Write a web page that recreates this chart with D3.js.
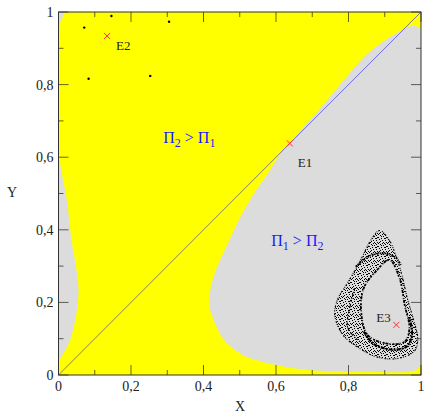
<!DOCTYPE html>
<html><head><meta charset="utf-8">
<script src="https://cdn.jsdelivr.net/npm/d3@7"></script>
<style>body{margin:0;background:#fff}</style>
</head><body><svg id="c" width="426" height="414"></svg>
<script>
// ---- data ----
const xTicks = [0, 0.2, 0.4, 0.6, 0.8, 1];
const yTicks = [0, 0.2, 0.4, 0.6, 0.8, 1];
const minorTicks = [0.1, 0.3, 0.5, 0.7, 0.9];
const tickLabels = ["0", "0,2", "0,4", "0,6", "0,8", "1"];
// boundary of region Pi1 > Pi2 (gray), right part
const grayMainCurve = [[1,0.955],[0.977,0.962],[0.941,0.946],[0.895,0.918],[0.849,0.882],[0.803,0.831],[0.757,0.776],[0.711,0.721],[0.665,0.670],[0.638,0.638],[0.619,0.620],[0.578,0.556],[0.546,0.510],[0.518,0.464],[0.493,0.418],[0.472,0.372],[0.450,0.326],[0.431,0.280],[0.419,0.234],[0.417,0.188],[0.428,0.152],[0.454,0.100],[0.500,0.060],[0.546,0.041],[0.638,0.020],[0.72,0.012],[0.85,0.009],[0.965,0.009],[0.99,0.016],[1,0.031]];
// left lobe
const grayLeftCurve = [[0,0.606],[0.012,0.54],[0.023,0.482],[0.036,0.371],[0.048,0.30],[0.055,0.242],[0.052,0.187],[0.032,0.096],[0.004,0.045],[0,0.04]];
const grayCorner = [[0,1],[0.018,1],[0.008,0.98],[0,0.96]];
const diagonal = [[0,0],[1,1]];
// attractor around E3
const attractorOuter = [[0.886,0.398],[0.912,0.372],[0.932,0.325],[0.950,0.265],[0.962,0.212],[0.980,0.150],[0.991,0.101],[0.982,0.066],[0.932,0.045],[0.877,0.050],[0.831,0.073],[0.785,0.110],[0.762,0.165],[0.771,0.211],[0.794,0.248],[0.831,0.312],[0.862,0.372]];
const attractorInner = [[0.913,0.317],[0.877,0.287],[0.842,0.239],[0.835,0.174],[0.853,0.110],[0.904,0.087],[0.955,0.092],[0.968,0.129],[0.955,0.193],[0.941,0.266]];
const attractorArch = [[0.820,0.298],[0.858,0.328],[0.899,0.335],[0.932,0.322],[0.945,0.300]];
const attractorStreak = [[0.817,0.239],[0.803,0.184],[0.798,0.129],[0.831,0.092]];
const attractorRimBottom = [[0.842,0.120],[0.870,0.085],[0.920,0.070],[0.960,0.078],[0.975,0.110],[0.968,0.160]];
// isolated points (periodic orbit near E2)
const orbitX = [0.071, 0.146, 0.305, 0.083, 0.253];
const orbitY = [0.957, 0.989, 0.973, 0.816, 0.824];
// equilibria
const eqNames = ["E1", "E2", "E3"];
const eqX = [0.638, 0.134, 0.932];
const eqY = [0.638, 0.934, 0.138];
const regionLabels = [{x:0.289, y:0.64, a:"2", b:"1"}, {x:0.587, y:0.355, a:"1", b:"2"}];

// ---- drawing ----
const svg = d3.select("#c");
const L = 58.5, R = 421, T = 12, B = 375;
const x = d3.scaleLinear().domain([0,1]).range([L,R]);
const y = d3.scaleLinear().domain([0,1]).range([B,T]);
const font = "'Liberation Serif', 'DejaVu Serif', serif";

const defs = svg.append("defs");
const pat = defs.append("pattern").attr("id","dots").attr("width",9).attr("height",9).attr("patternUnits","userSpaceOnUse");
[[0,0],[4,0],[7,1],[2,1],[5,2],[0,3],[8,3],[3,4],[6,4],[1,5],[4,6],[7,6],[2,7],[5,8],[8,8],[6,0],[1,8],[3,2],[7,4]].forEach(p=>{
  pat.append("rect").attr("x",p[0]).attr("y",p[1]).attr("width",1).attr("height",1).attr("fill","#000");
});
defs.append("clipPath").attr("id","clip").append("rect").attr("x",L).attr("y",T).attr("width",R-L).attr("height",B-T);

const g = svg.append("g").attr("clip-path","url(#clip)");
g.append("rect").attr("x",L).attr("y",T).attr("width",R-L).attr("height",B-T).attr("fill","#ffff00");

const curve = d3.line().x(d=>x(d[0])).y(d=>y(d[1])).curve(d3.curveCatmullRom);
const lin = d3.line().x(d=>x(d[0])).y(d=>y(d[1]));
const gray = "#dcdcdc";
g.append("path").attr("d", curve(grayMainCurve) + "L" + x(1) + "," + y(0.955) + "Z").attr("fill",gray);
g.append("path").attr("d", curve(grayLeftCurve) + "Z").attr("fill",gray);
g.append("path").attr("d", lin(grayCorner) + "Z").attr("fill",gray);

g.append("path").attr("d", lin(diagonal)).attr("stroke","#0000ff").attr("stroke-opacity",0.5).attr("stroke-width",1).attr("fill","none");

// attractor
const closed = d3.line().x(d=>x(d[0])).y(d=>y(d[1])).curve(d3.curveCatmullRomClosed);
g.append("path").attr("d", closed(attractorOuter) + closed(attractorInner)).attr("fill","url(#dots)").attr("fill-rule","evenodd");
g.append("path").attr("d", closed(attractorOuter)).attr("fill","none").attr("stroke","#000").attr("stroke-width",1.1).attr("stroke-dasharray","1,1,2,2,1,1");
g.append("path").attr("d", closed(attractorInner)).attr("fill","none").attr("stroke","#000").attr("stroke-width",1.8).attr("stroke-dasharray","3,1,1,2,2,1");
g.append("path").attr("d", curve(attractorRimBottom)).attr("fill","none").attr("stroke","#000").attr("stroke-width",2.2).attr("stroke-dasharray","4,1,2,1");
g.append("path").attr("d", curve(attractorArch)).attr("fill","none").attr("stroke","#000").attr("stroke-width",2).attr("stroke-dasharray","2,1,1,1");
g.append("path").attr("d", curve(attractorStreak)).attr("fill","none").attr("stroke","#000").attr("stroke-width",1.3).attr("stroke-dasharray","2,2,1,1");

// orbit points
g.selectAll(".op").data(orbitX).enter().append("circle").attr("cx",d=>x(d)).attr("cy",(d,i)=>y(orbitY[i])).attr("r",1.2).attr("fill","#000");

// equilibria markers
const eqLabelDx = [8, 9, -20], eqLabelDy = [24, 14, -3];
eqNames.forEach((n,i)=>{
  const cx = x(eqX[i]), cy = y(eqY[i]), s = 3;
  svg.append("path").attr("d",`M${cx-s},${cy-s}L${cx+s},${cy+s}M${cx-s},${cy+s}L${cx+s},${cy-s}`).attr("stroke","#ff3030").attr("stroke-width",1);
  svg.append("text").attr("x",cx+eqLabelDx[i]).attr("y",cy+eqLabelDy[i]).text(n).attr("font-family",font).attr("font-size",13).attr("fill","#222");
});

// region labels
regionLabels.forEach(r=>{
  const t = svg.append("text").attr("x",x(r.x)).attr("y",y(r.y)).attr("font-family",font).attr("font-size",16).attr("fill","#1a1aff");
  t.append("tspan").text("Π");
  t.append("tspan").text(r.a).attr("font-size",12).attr("dy",4);
  t.append("tspan").text(" > ").attr("dy",-4);
  t.append("tspan").text("Π");
  t.append("tspan").text(r.b).attr("font-size",12).attr("dy",4);
});

// ticks
const tk = svg.append("g").attr("stroke","#000").attr("stroke-opacity",0.6);
const allT = xTicks.map(v=>({v,len:10})).concat(minorTicks.map(v=>({v,len:5})));
allT.forEach(t=>{
  tk.append("line").attr("x1",x(t.v)).attr("x2",x(t.v)).attr("y1",B).attr("y2",B-t.len);
  tk.append("line").attr("x1",x(t.v)).attr("x2",x(t.v)).attr("y1",T).attr("y2",T+t.len);
  tk.append("line").attr("y1",y(t.v)).attr("y2",y(t.v)).attr("x1",L).attr("x2",L+t.len);
  tk.append("line").attr("y1",y(t.v)).attr("y2",y(t.v)).attr("x1",R).attr("x2",R-t.len);
});
svg.append("rect").attr("x",L).attr("y",T).attr("width",R-L).attr("height",B-T).attr("fill","none").attr("stroke","#333").attr("stroke-width",1);

// tick labels
xTicks.forEach((v,i)=>{
  svg.append("text").attr("x",x(v)).attr("y",B+16).attr("text-anchor","middle").text(tickLabels[i]).attr("font-family",font).attr("font-size",14).attr("fill","#222");
});
yTicks.forEach((v,i)=>{
  svg.append("text").attr("x",L-5).attr("y",y(v)+5).attr("text-anchor","end").text(tickLabels[i]).attr("font-family",font).attr("font-size",14).attr("fill","#222");
});
svg.append("text").attr("x",240).attr("y",411).attr("text-anchor","middle").text("X").attr("font-family",font).attr("font-size",14).attr("fill","#222");
svg.append("text").attr("x",12).attr("y",197).attr("text-anchor","middle").text("Y").attr("font-family",font).attr("font-size",14).attr("fill","#222");
</script></body></html>
